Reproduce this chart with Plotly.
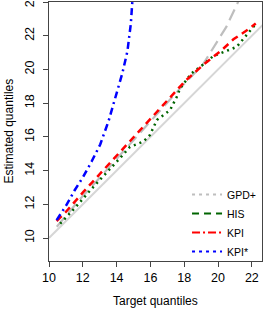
import plotly.graph_objects as go

# Diagonal reference (target = estimate)
diag_x = [10, 22.7]
diag_y = [10, 22.7]

# GPD+
gpd_x = [10.46, 11.0, 12.0, 13.0, 14.0, 15.0, 16.0, 17.0, 18.0, 19.11, 19.5, 20.0, 20.49, 20.89, 21.18, 21.35]
gpd_y = [10.67, 11.3, 12.5, 13.58, 14.7, 15.85, 16.95, 18.05, 19.15, 20.3, 20.9, 21.74, 22.53, 23.33, 24.0, 24.45]

# HIS
his_x = [10.66, 11.51, 12.52, 13.53, 14.2, 14.79, 15.58, 15.97, 16.38, 17.16, 17.56, 17.75, 18.42, 19.21, 19.71, 20.12, 20.59, 21.1, 21.6, 22.17]
his_y = [10.85, 11.76, 12.92, 13.98, 14.74, 15.41, 15.72, 16.11, 17.0, 17.59, 18.38, 18.87, 19.77, 20.36, 20.79, 20.95, 21.15, 21.34, 21.94, 22.63]

# KPI
kpi_x = [10.45, 11.01, 12.02, 13.03, 14.04, 15.04, 16.05, 17.06, 18.07, 19.13, 20.22, 20.91, 21.79, 22.23]
kpi_y = [11.01, 11.56, 12.72, 13.83, 14.94, 16.05, 17.16, 18.27, 19.33, 20.28, 21.15, 21.79, 22.38, 22.73]

# KPI*
kpis_x = [10.45, 11.01, 11.51, 12.02, 12.52, 13.03, 13.53, 14.04, 14.34, 14.64, 14.84, 14.97]
kpis_y = [11.06, 11.92, 12.82, 13.63, 14.54, 15.55, 16.96, 18.67, 19.78, 21.09, 22.71, 24.62]

x_ticks = [10, 12, 14, 16, 18, 20, 22]
y_ticks = [10, 12, 14, 16, 18, 20, 22, 24]
legend_names = ["GPD+", "HIS", "KPI", "KPI*"]

fig = go.Figure()
fig.add_trace(go.Scatter(x=diag_x, y=diag_y, mode="lines", showlegend=False,
                         line=dict(color="#d6d6d6", width=2)))
fig.add_trace(go.Scatter(x=gpd_x, y=gpd_y, mode="lines", showlegend=False,
                         line=dict(color="#bebebe", width=2.2, dash="12px,6px")))
fig.add_trace(go.Scatter(x=his_x, y=his_y, mode="lines", showlegend=False,
                         line=dict(color="#006400", width=2.5, dash="2px,4px")))
fig.add_trace(go.Scatter(x=kpi_x, y=kpi_y, mode="lines", showlegend=False,
                         line=dict(color="#ff0000", width=2.5, dash="7px,5px")))
fig.add_trace(go.Scatter(x=kpis_x, y=kpis_y, mode="lines", showlegend=False,
                         line=dict(color="#0000ff", width=2.5, dash="7px,4px,2px,4px")))

# legend entries (styled as in the original legend)
leg_styles = [("#bebebe", "3px,4px"), ("#006400", "7px,5px"), ("#ff0000", "8px,3px,2px,3px"), ("#0000ff", "3px,4px")]
for name, (c, d) in zip(legend_names, leg_styles):
    fig.add_trace(go.Scatter(x=[None], y=[None], mode="lines", name=name,
                             line=dict(color=c, width=2, dash=d)))

font = "Liberation Sans, Arial, Helvetica, sans-serif"
fig.update_layout(
    width=266, height=310,
    margin=dict(l=49, r=4, t=2, b=49, autoexpand=False),
    plot_bgcolor="white", paper_bgcolor="white",
    font=dict(family=font, size=12, color="black"),
    showlegend=True,
    legend=dict(x=0.648, y=-0.019, xanchor="left", yanchor="bottom",
                bgcolor="rgba(0,0,0,0)", font=dict(size=10.5),
                itemwidth=30, tracegroupgap=0),
    xaxis=dict(range=[10, 22.6], tickvals=x_ticks, ticks="outside", ticklen=5,
               showgrid=False, zeroline=False, showline=True, linecolor="#444",
               linewidth=1, mirror=True, tickfont=dict(size=12.5), automargin=False),
    yaxis=dict(range=[8.636, 24.005], tickvals=y_ticks, ticks="outside", ticklen=5,
               showgrid=False, zeroline=False, showline=True, linecolor="#444",
               linewidth=1, mirror=True, tickangle=-90, tickfont=dict(size=12.5),
               automargin=False, ticklabeloverflow="allow", ticklabelstandoff=4),
    annotations=[
        dict(text="Target quantiles", xref="paper", yref="paper", x=0.5, y=0,
             yshift=-40, showarrow=False, font=dict(size=12), yanchor="middle"),
        dict(text="Estimated quantiles", xref="paper", yref="paper", x=0, y=0.5,
             xshift=-41, showarrow=False, font=dict(size=12), textangle=-90,
             xanchor="center"),
    ],
)
fig.write_html("out.html", config={"displayModeBar": False},
               post_script="document.body.style.margin='0px';document.body.style.overflow='hidden';")
